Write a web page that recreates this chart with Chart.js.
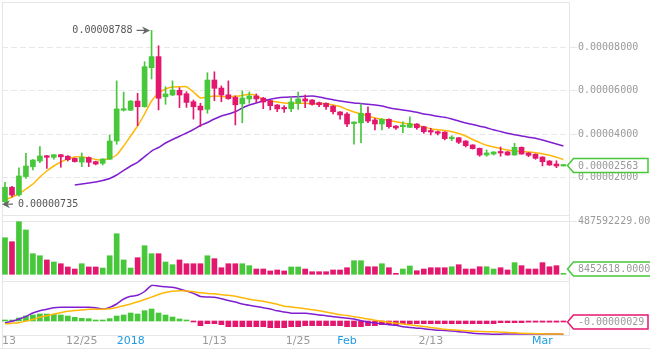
<!DOCTYPE html>
<html>
<head>
<meta charset="utf-8">
<script src="https://cdn.jsdelivr.net/npm/chart.js@4.4.1/dist/chart.umd.min.js"></script>
<style>
  body { margin: 0; background: #fff; }
  canvas { display: block; }
</style>
</head>
<body>
<canvas id="chart" width="650" height="351"></canvas>
<script>
// prices are in 1e-8 units (satoshi), one candle per day, day 0 = 12/13
const firstDay = 1;

const opens = [894,1560,1210,2050,2510,2770,3010,2940,3060,2990,
  2890,2720,2930,2740,2660,2850,3690,5110,5110,5530,
  5270,7070,7580,5730,5810,6030,5870,5500,5300,5150,
  6500,6130,5820,5700,5400,5630,5765,5670,5550,5350,
  5210,5180,5430,5630,5580,5460,5430,5300,5030,4935,
  4490,4530,4970,4660,4475,4690,4380,4350,4320,4475,
  4350,4140,4120,4100,3800,3840,3690,3510,3350,3045,
  3090,3200,3190,3046,3400,3140,3080,2950,2770,2630,2540];
const highs = [1788,1600,2450,3120,2840,3430,3030,3070,3070,3020,
  2910,3140,2960,2760,2880,3970,6460,5940,5560,5890,
  7345,8788,8080,6190,6460,6150,5960,5580,5430,6840,
  6880,6230,6460,5770,6000,5950,5860,5700,5570,5370,
  5320,5690,5950,5810,5600,5480,5450,5320,5050,5000,
  4580,5400,5270,4740,4720,4710,4400,4580,4810,4490,
  4370,4280,4150,4120,3935,3860,3710,3520,3370,3280,
  3200,3415,3210,3585,3420,3160,3100,2970,2790,2780,2563];
const lows = [735,1110,1150,1970,2355,2690,2430,2850,2480,2770,
  2720,2510,2510,2590,2585,2840,3540,5070,5090,4400,
  5250,6550,5120,5380,5780,5230,5240,4700,4360,4970,
  5550,5500,5610,4430,4530,5430,5456,5180,5120,5040,
  5010,5040,5150,5225,5340,5270,5150,4935,4700,4350,
  3550,3610,4530,4200,4200,4280,4230,4075,4300,4230,
  4045,3970,3970,3740,3705,3570,3415,3320,2985,2990,
  3046,2990,3030,3030,3080,2970,2850,2540,2570,2460,2540];
const closes = [1558,1200,2080,2540,2816,3000,2940,3060,2960,2830,
  2740,2930,2710,2630,2860,3690,5170,5170,5530,5270,
  7115,7580,5660,5860,6040,5810,5470,5270,5120,6500,
  6120,5810,5640,5360,5670,5765,5630,5490,5320,5170,
  5170,5490,5630,5530,5380,5360,5270,5040,4890,4475,
  4567,4970,4610,4475,4690,4350,4290,4396,4490,4300,
  4120,4105,4046,3800,3843,3630,3475,3340,3045,3140,
  3184,3140,3046,3400,3090,3030,2894,2737,2585,2540,2563];

const volumes = [339000000,302000000,487592229,411000000,191000000,172000000,133000000,114000000,98000000,68000000,
  49000000,98000000,68000000,68000000,58000000,172000000,376000000,133000000,58000000,154000000,
  265000000,191000000,191000000,114000000,89000000,133000000,98000000,98000000,98000000,172000000,
  145000000,61000000,98000000,98000000,98000000,80000000,49000000,49000000,31000000,40000000,
  31000000,68000000,68000000,49000000,24000000,24000000,24000000,40000000,40000000,61000000,
  126000000,126000000,70000000,70000000,98000000,61000000,9000000,49000000,77000000,33000000,
  49000000,61000000,61000000,61000000,70000000,89000000,49000000,49000000,70000000,70000000,
  49000000,61000000,40000000,108000000,80000000,49000000,49000000,108000000,70000000,80000000,8452618];

const maFast = [972,1111,1249,1479,1710,2032,2309,2539,2723,2862,
  2954,2954,2908,2839,2816,2894,3046,3461,3922,4382,
  4935,5534,5903,6087,6179,6193,6193,5949,5673,5719,
  5765,5742,5732,5751,5788,5843,5788,5603,5534,5488,
  5442,5428,5428,5428,5396,5419,5410,5350,5281,5143,
  5027,4935,4843,4751,4691,4645,4580,4521,4474,4405,
  4336,4258,4212,4175,4120,4037,3922,3760,3622,3493,
  3415,3346,3276,3230,3207,3184,3152,3106,3032,2940,2839];
const maSlow = [null,null,null,null,null,null,null,null,null,null,
  1664,1710,1756,1802,1871,1963,2124,2332,2539,2710,
  2968,3230,3392,3599,3760,3908,4060,4221,4405,4544,
  4705,4843,4935,5041,5212,5350,5442,5534,5613,5673,
  5705,5719,5732,5751,5765,5719,5650,5594,5534,5488,
  5442,5415,5382,5350,5304,5226,5166,5120,5074,5014,
  4935,4889,4829,4783,4705,4613,4521,4451,4373,4304,
  4207,4129,4046,3981,3922,3866,3816,3737,3645,3553,3461];

const macdLine = [-60,-10,60,140,240,310,350,395,410,410,
  410,410,410,395,360,410,510,660,740,770,
  885,1065,1050,1025,1010,960,900,830,735,720,
  710,670,615,570,510,470,435,400,360,305,
  270,235,230,230,210,180,160,130,105,85,
  60,10,-40,-60,-80,-110,-130,-170,-195,-215,
  -230,-255,-275,-285,-300,-320,-340,-365,-380,-390,
  -400,-395,-390,-390,-390,-390,-390,-390,-390,-390,-400];
const macdSignal = [-85,-65,-55,0,45,110,160,210,250,290,
  315,330,350,350,355,370,405,455,510,575,
  645,715,795,855,890,905,900,880,845,825,
  815,790,770,740,695,655,620,595,550,500,
  445,420,395,365,340,310,270,230,190,165,
  130,95,60,25,-5,-35,-65,-90,-115,-140,
  -165,-195,-220,-250,-265,-280,-295,-305,-315,-320,
  -325,-335,-345,-355,-370,-375,-380,-385,-390,-390,-390];
const macdHist = [30,30,90,150,180,210,210,200,180,150,
  110,80,70,30,30,70,150,180,240,210,
  310,360,240,180,120,60,10,-10,-140,-80,
  -80,-110,-170,-170,-170,-170,-170,-170,-200,-200,
  -200,-170,-170,-140,-140,-140,-140,-140,-140,-170,
  -170,-170,-140,-140,-110,-110,-110,-80,-80,-80,
  -80,-80,-80,-80,-80,-80,-80,-80,-80,-80,
  -80,-50,-50,-50,-50,-35,-35,-35,-35,-35,-29];

const tickDays = [12, 19, 31, 43, 50, 62, 78];
const tickLabels = ['12/25', '2018', '1/13', '1/25', 'Feb', '2/13', 'Mar'];
const firstTickLabel = '13';
const blueLabels = ['2018', 'Feb', 'Mar'];
const priceTicks = [2000, 4000, 6000, 8000];

// view
const xMin = 0.573, xMax = 81.8;
const green = '#47c73a';
const red = '#e3176d';
const mono = { family: 'DejaVu Sans Mono', size: 10 };

const days = closes.map((c, i) => firstDay + i);
const candleColors = closes.map((c, i) => c >= opens[i] ? green : red);
const histColors = macdHist.map(v => v >= 0 ? green : red);

function pts(arr) {
    return arr.map((v, i) => ({ x: days[i], y: v }));
}

function fmt8(v) {
    return (v / 1e8).toFixed(8);
}

function drawTag(ctx, y, text, color, right) {
    const tip = 567.5, left = 573.5, h = 14;
    ctx.beginPath();
    ctx.moveTo(tip, y);
    ctx.lineTo(left, y - h / 2);
    ctx.lineTo(right, y - h / 2);
    ctx.lineTo(right, y + h / 2);
    ctx.lineTo(left, y + h / 2);
    ctx.closePath();
    ctx.fillStyle = '#fff';
    ctx.fill();
    ctx.lineWidth = 1.5;
    ctx.strokeStyle = color;
    ctx.stroke();
    ctx.fillStyle = '#9a9a9a';
    ctx.font = '10px "DejaVu Sans Mono"';
    ctx.textAlign = 'left';
    ctx.textBaseline = 'middle';
    ctx.fillText(text, 578, y + 0.5);
}

function drawArrow(ctx, tail, tip, y) {
    const dir = tip > tail ? 1 : -1;
    ctx.strokeStyle = '#666';
    ctx.fillStyle = '#666';
    ctx.lineWidth = 1.2;
    ctx.beginPath();
    ctx.moveTo(tail, y);
    ctx.lineTo(tip - dir * 3, y);
    ctx.stroke();
    ctx.beginPath();
    ctx.moveTo(tip, y);
    ctx.lineTo(tip - dir * 8, y - 4);
    ctx.lineTo(tip - dir * 5.5, y);
    ctx.lineTo(tip - dir * 8, y + 4);
    ctx.closePath();
    ctx.fill();
}

const overlay = {
    id: 'overlay',
    beforeDatasetsDraw(chart) {
        const ctx = chart.ctx;
        const a = chart.chartArea;
        const yMain = chart.scales.y;
        const ym = chart.scales.ym;
        ctx.save();
        ctx.strokeStyle = '#e6e6e6';
        ctx.lineWidth = 1;
        ctx.strokeRect(a.left + 0.5, a.top + 0.5, a.right - a.left, Math.round(yMain.bottom) - a.top - 1);
        ctx.strokeRect(a.left + 0.5, Math.round(ym.top) + 2.5, a.right - a.left, a.bottom - ym.top - 2);
        ctx.beginPath();
        ctx.moveTo(a.left + 0.5, yMain.bottom);
        ctx.lineTo(a.left + 0.5, 348.5);
        ctx.moveTo(a.right + 0.5, yMain.bottom);
        ctx.lineTo(a.right + 0.5, ym.top + 2);
        ctx.moveTo(0, 348.5);
        ctx.lineTo(650, 348.5);
        ctx.stroke();
        ctx.restore();
    },
    afterDraw(chart) {
        const ctx = chart.ctx;
        const x = chart.scales.x, y = chart.scales.y, yv = chart.scales.yv, ym = chart.scales.ym;
        ctx.save();

        // highest high and lowest low
        const hi = highs.indexOf(Math.max(...highs));
        const lo = lows.indexOf(Math.min(...lows));
        ctx.font = '10px "DejaVu Sans Mono"';
        ctx.fillStyle = '#555';
        ctx.textBaseline = 'middle';

        let px = x.getPixelForValue(days[hi]);
        let py = y.getPixelForValue(highs[hi]);
        drawArrow(ctx, px - 15, px - 1.5, py);
        ctx.fillStyle = '#555';
        ctx.textAlign = 'right';
        ctx.fillText(fmt8(highs[hi]), px - 19, py);

        px = x.getPixelForValue(days[lo]);
        py = y.getPixelForValue(lows[lo]) - 1;
        drawArrow(ctx, px + 8, px - 3, py);
        ctx.fillStyle = '#555';
        ctx.textAlign = 'left';
        ctx.fillText(fmt8(lows[lo]), px + 13, py);

        // last value tags
        const n = closes.length - 1;
        drawTag(ctx, y.getPixelForValue(closes[n]), fmt8(closes[n]), green, 648);
        const vy = Math.min(yv.getPixelForValue(volumes[n]), yv.bottom - 10);
        drawTag(ctx, vy, volumes[n].toFixed(4), green, 652);
        drawTag(ctx, ym.getPixelForValue(macdHist[n]), fmt8(macdHist[n]), red, 648);
        ctx.restore();
    }
};

function noPad(scale) {
    scale.paddingTop = 0;
    scale.paddingBottom = 0;
    scale.paddingLeft = 0;
    scale.paddingRight = 0;
}

Chart.defaults.font.family = 'DejaVu Sans';

new Chart(document.getElementById('chart').getContext('2d'), {
    type: 'bar',
    data: {
        datasets: [
            { type: 'line', data: pts(maSlow), yAxisID: 'y', borderColor: '#7f1fd1', borderWidth: 1.5, pointRadius: 0, tension: 0.2, order: 3 },
            { type: 'line', data: pts(maFast), yAxisID: 'y', borderColor: '#ffb808', borderWidth: 1.5, pointRadius: 0, tension: 0.2, order: 3 },
            { data: days.map((d, i) => ({ x: d, y: [lows[i], highs[i]] })), yAxisID: 'y', backgroundColor: candleColors, barThickness: 1, grouped: false, order: 2 },
            { data: days.map((d, i) => ({ x: d, y: [opens[i], closes[i]] })), yAxisID: 'y', backgroundColor: candleColors, barThickness: 5, minBarLength: 1.5, grouped: false, order: 1 },
            { data: pts(volumes), yAxisID: 'yv', backgroundColor: candleColors, barThickness: 5, grouped: false, order: 1 },
            { data: pts(macdHist), yAxisID: 'ym', backgroundColor: histColors, barThickness: 5, minBarLength: 1, grouped: false, order: 2 },
            { type: 'line', data: pts(macdSignal), yAxisID: 'ym', borderColor: '#ffb808', borderWidth: 1.5, pointRadius: 0, tension: 0.2, order: 1 },
            { type: 'line', data: pts(macdLine), yAxisID: 'ym', borderColor: '#7f1fd1', borderWidth: 1.5, pointRadius: 0, tension: 0.2, order: 1 }
        ]
    },
    options: {
        responsive: false,
        animation: false,
        devicePixelRatio: 1,
        layout: { padding: { left: 2, top: 2, right: 0, bottom: 0 }, autoPadding: false },
        plugins: { legend: { display: false }, tooltip: { enabled: false } },
        scales: {
            x: {
                type: 'linear',
                offset: false,
                min: xMin,
                max: xMax,
                grid: { display: false, drawTicks: false, offset: false },
                border: { display: false },
                afterBuildTicks: s => {
                    s.ticks = [{ value: xMin }].concat(tickDays.map(d => ({ value: d })), [{ value: xMax }]);
                },
                afterFit: s => { noPad(s); s.height = 16; },
                ticks: {
                    autoSkip: false,
                    maxRotation: 0,
                    align: 'inner',
                    padding: 0,
                    font: { family: 'DejaVu Sans', size: 11 },
                    color: c => (c.tick && blueLabels.includes(c.tick.label)) ? '#1e9be2' : '#9a9a9a',
                    callback: v => {
                        if (v === xMin) return firstTickLabel;
                        const k = tickDays.indexOf(v);
                        return k >= 0 ? tickLabels[k] : '';
                    }
                }
            },
            y: {
                position: 'right',
                stack: 'panels',
                stackWeight: 214,
                min: 235,
                max: 10096,
                afterBuildTicks: s => { s.ticks = priceTicks.map(v => ({ value: v })); },
                afterFit: s => { noPad(s); s.width = 81; },
                grid: { color: '#e8e8e8', tickLength: 8 },
                border: { display: false, dash: [6, 3] },
                ticks: { padding: 1, font: mono, color: '#9a9a9a', callback: v => fmt8(v) }
            },
            yv: {
                position: 'right',
                stack: 'panels',
                stackWeight: 63,
                min: -43600000,
                max: 540400000,
                afterBuildTicks: s => { s.ticks = [{ value: Math.max(...volumes) }]; },
                afterFit: s => { noPad(s); s.width = 81; },
                grid: { color: '#e6e6e6', tickLength: 8 },
                border: { display: false },
                ticks: { padding: 1, font: mono, color: '#9a9a9a', callback: v => v.toFixed(2) }
            },
            ym: {
                position: 'right',
                stack: 'panels',
                stackWeight: 56,
                min: -420,
                max: 1260,
                afterFit: s => { noPad(s); s.width = 81; },
                grid: { display: false, drawTicks: false },
                border: { display: false },
                ticks: { display: false }
            }
        }
    },
    plugins: [overlay]
});
</script>
</body>
</html>
